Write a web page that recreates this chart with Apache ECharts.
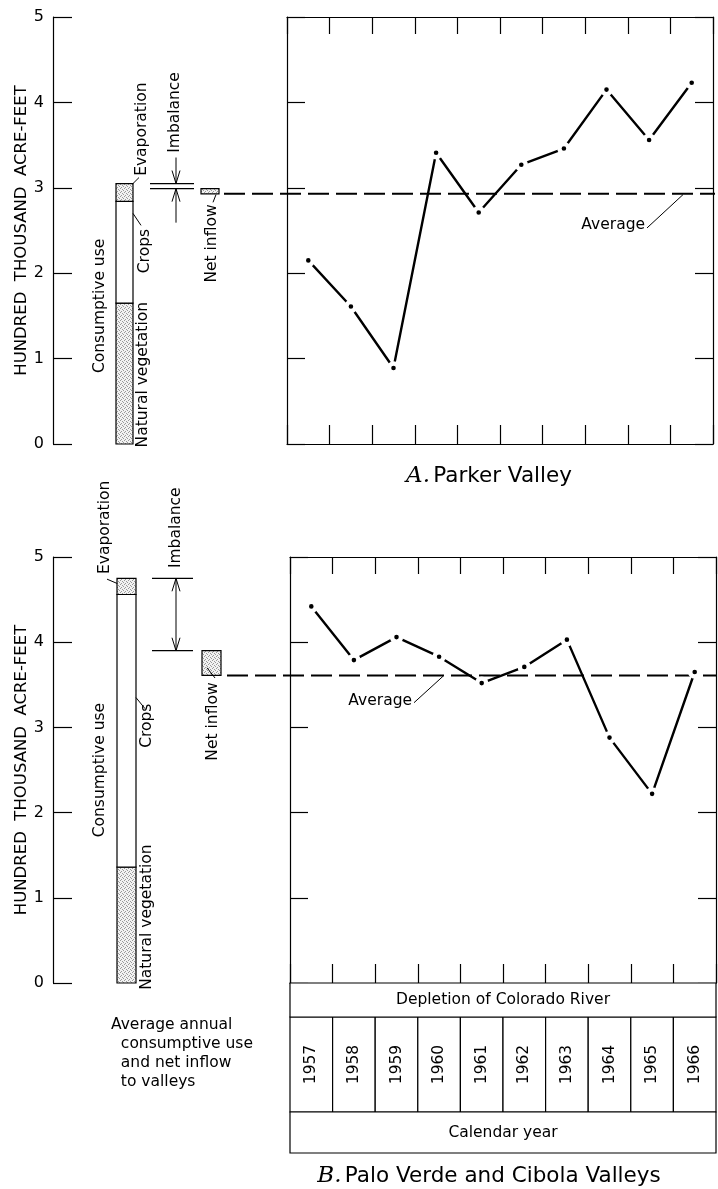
<!DOCTYPE html>
<html><head><meta charset="utf-8">
<script src="https://cdn.jsdelivr.net/npm/echarts@6/dist/echarts.min.js"></script>
<style>html,body{margin:0;padding:0;background:#fff}#c{width:718px;height:1189px}</style>
</head><body><div id="c"></div>
<script>
// ---------------- DATA ----------------
const years = ['1957','1958','1959','1960','1961','1962','1963','1964','1965','1966'];
const yTicks = [0, 1, 2, 3, 4, 5];
const yTitle = 'HUNDRED  THOUSAND  ACRE-FEET';
const parkerDepletion = [2.15, 1.61, 0.89, 3.41, 2.71, 3.27, 3.46, 4.15, 3.56, 4.23];
const paloDepletion   = [4.42, 3.79, 4.06, 3.83, 3.52, 3.71, 4.03, 2.88, 2.22, 3.65];
const parkerAverage = 2.93;
const paloAverage = 3.61;
const useComponents = ['Natural vegetation', 'Crops', 'Evaporation'];
const parkerUse = [1.65, 1.19, 0.21];
const paloUse   = [1.36, 3.20, 0.19];
const parkerNetInflow = 2.99;
const paloNetInflow = 3.90;
const panelLetters = ['A.', 'B.'];
const panelNames = ['Parker Valley', 'Palo Verde and Cibola Valleys'];
const tableRows = ['Depletion of Colorado River', 'Calendar year'];
const noteText = 'Average annual\n  consumptive use\n  and net inflow\n  to valleys';

// ---------------- STYLE / LAYOUT ----------------
const FF = '"DejaVu Sans", sans-serif';
const FS = 15.5;
const font = s => s + 'px ' + FF;
const BLK = '#000';
const stipple = (function () {
  const c = document.createElement('canvas'); c.width = 4; c.height = 4;
  const g = c.getContext('2d');
  g.fillStyle = '#f2f2f2'; g.fillRect(0, 0, 4, 4);
  g.fillStyle = '#9a9a9a';
  [[0,0],[2,1],[1,3],[3,2]].forEach(p => g.fillRect(p[0], p[1], 1, 1));
  return c;
})();
const stippleFill = { image: stipple, repeat: 'repeat' };

const panels = [
  { top: 17, height: 427, boxLeft: 287, depletion: parkerDepletion, avg: parkerAverage,
    use: parkerUse, inflow: parkerNetInflow, imb: 'outside',
    barX: [63, 80], imbX: [97, 141], arrowX: 123, upLen: 26, downLen: 34,
    boxX: [148, 166], dashX: [171, 662],
    evap: { gx: 89, v: 3.14, leader: [[80, 3.05], [86, 3.12]] },
    crops: { gx: 92, v: 2.00, leader: [[80, 2.70], [88, 2.56]] },
    veg: { gx: 90, v: -0.04 },
    cons: { gx: 47, v: 0.83 },
    imbLabel: { gx: 122, v: 3.41 },
    net: { gx: 159, v: 1.89, leader: [[160, 2.83], [163, 2.92]] },
    avgLabel: { gx: 592, v: 2.56, leader: [[594, 2.53], [630, 2.92]] } },
  { top: 557, height: 426, boxLeft: 290, depletion: paloDepletion, avg: paloAverage,
    use: paloUse, inflow: paloNetInflow, imb: 'inside',
    barX: [64, 83], imbX: [99, 140], arrowX: 123,
    boxX: [149, 168], dashX: [174, 664],
    evap: { gx: 52, v: 4.80, leader: [[54, 4.74], [64, 4.69]] },
    crops: { gx: 94, v: 2.76, leader: [[83, 3.35], [92, 3.22]] },
    veg: { gx: 94, v: -0.08 },
    cons: { gx: 47, v: 1.71 },
    imbLabel: { gx: 123, v: 4.87 },
    net: { gx: 160, v: 2.61, leader: [[162, 3.58], [154, 3.70]] },
    avgLabel: { gx: 359, v: 3.31, leader: [[361, 3.29], [390, 3.60]] } }
];

function barRender(P) {
  return function (params, api) {
    const a = api.coord([P.barX[0], api.value(1)]);
    const b = api.coord([P.barX[1], api.value(2)]);
    const k = api.value(0);
    return { type: 'rect', shape: { x: a[0], y: b[1], width: b[0] - a[0], height: a[1] - b[1] },
      style: { fill: k === 1 ? '#fff' : stippleFill, stroke: BLK, lineWidth: 1.2 } };
  };
}

function annotRender(P) {
  return function (params, api) {
    const total = api.value(0), inflow = api.value(1), avg = api.value(2);
    const C = (gx, v) => api.coord([gx, v]);
    const ch = [];
    const line = (a, b, st) => ch.push({ type: 'line', shape: { x1: a[0], y1: a[1], x2: b[0], y2: b[1] },
      style: Object.assign({ stroke: BLK, lineWidth: 1 }, st || {}) });
    const vtext = (o, t) => { const p = C(o.gx, o.v); ch.push({ type: 'text', x: p[0], y: p[1], rotation: Math.PI / 2,
      style: { text: t, fill: BLK, font: font(FS), align: 'left', verticalAlign: 'middle' } }); };
    const head = (p, dir) => ch.push({ type: 'polyline', shape: { points: [[p[0] - 4, p[1] - dir * 13], [p[0], p[1]], [p[0] + 4, p[1] - dir * 13]] },
      style: { stroke: BLK, lineWidth: 1, fill: 'none' } });
    line(C(P.imbX[0], total), C(P.imbX[1], total), { lineWidth: 1.2 });
    line(C(P.imbX[0], inflow), C(P.imbX[1], inflow), { lineWidth: 1.2 });
    const a = C(P.arrowX, total), b = C(P.arrowX, inflow);
    if (P.imb === 'outside') {
      line([a[0], a[1] - P.upLen], a); head(a, 1);
      line(b, [b[0], b[1] + P.downLen]); head(b, -1);
    } else {
      line(a, b); head(a, -1); head(b, 1);
    }
    const n0 = C(P.boxX[0], inflow), n1 = C(P.boxX[1], avg);
    ch.push({ type: 'rect', shape: { x: n0[0], y: n0[1], width: n1[0] - n0[0], height: n1[1] - n0[1] },
      style: { fill: stippleFill, stroke: BLK, lineWidth: 1.2 } });
    line(C(P.dashX[0], avg), C(P.dashX[1], avg), { lineWidth: 2, lineDash: [21, 7] });
    vtext(P.evap, useComponents[2]); line(C(...P.evap.leader[0]), C(...P.evap.leader[1]));
    vtext(P.crops, useComponents[1]); line(C(...P.crops.leader[0]), C(...P.crops.leader[1]));
    vtext(P.veg, useComponents[0]);
    vtext(P.cons, 'Consumptive use');
    vtext(P.imbLabel, 'Imbalance');
    vtext(P.net, 'Net inflow'); line(C(...P.net.leader[0]), C(...P.net.leader[1]));
    const ap = C(P.avgLabel.gx, P.avgLabel.v);
    ch.push({ type: 'text', x: ap[0], y: ap[1], style: { text: 'Average', fill: BLK, font: font(FS), align: 'right', verticalAlign: 'middle' } });
    line(C(...P.avgLabel.leader[0]), C(...P.avgLabel.leader[1]));
    return { type: 'group', children: ch };
  };
}

const axisLineStyle = { color: BLK, width: 1.2 };
function catAxis(gi, pos, len) {
  return { type: 'category', gridIndex: gi, position: pos, data: years, boundaryGap: true,
    axisLine: { show: true, onZero: false, lineStyle: axisLineStyle },
    axisTick: { show: true, inside: true, length: len, interval: 0, lineStyle: axisLineStyle },
    axisLabel: { show: false }, splitLine: { show: false } };
}
function valAxis(gi, pos) {
  return { type: 'value', gridIndex: gi, position: pos, min: 0, max: 5, interval: 1,
    axisLine: { show: true, onZero: false, lineStyle: axisLineStyle },
    axisTick: { show: true, inside: true, length: 18, lineStyle: axisLineStyle },
    axisLabel: { show: false }, splitLine: { show: false } };
}

const grids = [], xAxes = [], yAxes = [], series = [];
panels.forEach(P => {
  const gL = grids.length;
  grids.push({ left: 53, top: P.top, width: 180, height: P.height });
  const gR = grids.length;
  grids.push({ left: P.boxLeft, top: P.top, width: 426, height: P.height });
  const xL = xAxes.length;
  xAxes.push({ type: 'value', gridIndex: gL, min: 0, max: 180, show: false });
  const xR = xAxes.length;
  xAxes.push(catAxis(gR, 'bottom', 19));
  xAxes.push(catAxis(gR, 'top', 17));
  const yL = yAxes.length;
  yAxes.push({ type: 'value', gridIndex: gL, position: 'left', min: 0, max: 5, interval: 1,
    name: yTitle, nameLocation: 'middle', nameGap: 23, nameRotate: 90,
    nameTextStyle: { color: BLK, fontSize: 16.5, fontFamily: FF },
    axisLine: { show: true, onZero: false, lineStyle: axisLineStyle },
    axisTick: { show: true, inside: true, length: 19, lineStyle: axisLineStyle },
    axisLabel: { show: true, margin: 9, color: BLK, fontSize: 16, fontFamily: FF,
      formatter: v => yTicks.indexOf(v) >= 0 ? String(v) : '' },
    splitLine: { show: false } });
  const yR = yAxes.length;
  yAxes.push(valAxis(gR, 'left'));
  yAxes.push(valAxis(gR, 'right'));
  let cum = 0;
  const segs = P.use.map((u, k) => { const s = [k, cum, cum + u]; cum += u; return s; });
  series.push({ type: 'custom', xAxisIndex: xL, yAxisIndex: yL, data: segs, renderItem: barRender(P), clip: false });
  series.push({ type: 'custom', xAxisIndex: xL, yAxisIndex: yL, data: [[cum, P.inflow, P.avg]], renderItem: annotRender(P), clip: false });
  series.push({ type: 'line', xAxisIndex: xR, yAxisIndex: yR, data: P.depletion, z: 5,
    lineStyle: { color: BLK, width: 2.4 }, symbol: 'circle', symbolSize: 9,
    itemStyle: { color: BLK, borderColor: '#fff', borderWidth: 4.4 } });
});

const gT = grids.length;
grids.push({ left: 290, top: 983, width: 426, height: 170 });
const xT = xAxes.length;
xAxes.push({ type: 'category', gridIndex: gT, data: years, boundaryGap: true, show: false });
const yT = yAxes.length;
yAxes.push({ type: 'value', gridIndex: gT, min: 0, max: 170, inverse: true, show: false });
const rowSpans = [[0, 34], [129, 170]];
const yearSpan = [34, 129];
series.push({ type: 'custom', xAxisIndex: xT, yAxisIndex: yT, data: years.map((y, i) => [i]),
  renderItem: (params, api) => {
    const i = api.value(0);
    const bw = params.coordSys.width / years.length;
    const c0 = api.coord([i, yearSpan[0]]), c1 = api.coord([i, yearSpan[1]]);
    return { type: 'group', children: [
      { type: 'rect', shape: { x: c0[0] - bw / 2, y: c0[1], width: bw, height: c1[1] - c0[1] }, style: { fill: '#fff', stroke: BLK, lineWidth: 1.2 } },
      { type: 'text', x: c0[0], y: (c0[1] + c1[1]) / 2, rotation: Math.PI / 2,
        style: { text: years[i], fill: BLK, font: font(FS), align: 'center', verticalAlign: 'middle' } } ] };
  } });
series.push({ type: 'custom', xAxisIndex: xT, yAxisIndex: yT, data: rowSpans.map((r, k) => [k, r[0], r[1]]),
  renderItem: (params, api) => {
    const k = api.value(0);
    const cs = params.coordSys;
    const y0 = api.coord([0, api.value(1)])[1], y1 = api.coord([0, api.value(2)])[1];
    return { type: 'group', children: [
      { type: 'rect', shape: { x: cs.x, y: y0, width: cs.width, height: y1 - y0 }, style: { fill: '#fff', stroke: BLK, lineWidth: 1.2 } },
      { type: 'text', x: cs.x + cs.width / 2, y: (y0 + y1) / 2, style: { text: tableRows[k], fill: BLK, font: font(FS), align: 'center', verticalAlign: 'middle' } } ] };
  } });

const titleRich = { l: { fontStyle: 'italic', fontSize: 23, fontFamily: '"DejaVu Serif", serif', color: BLK },
                    n: { fontSize: 21.5, fontFamily: FF, color: BLK } };
const option = {
  animation: false,
  backgroundColor: '#fff',
  grid: grids, xAxis: xAxes, yAxis: yAxes, series: series,
  graphic: [
    { type: 'text', x: 489, y: 476, style: { text: '{l|' + panelLetters[0] + '} {n|' + panelNames[0] + '}', rich: titleRich, align: 'center', verticalAlign: 'middle' } },
    { type: 'text', x: 489, y: 1176, style: { text: '{l|' + panelLetters[1] + '} {n|' + panelNames[1] + '}', rich: titleRich, align: 'center', verticalAlign: 'middle' } },
    { type: 'text', x: 111, y: 1015, style: { text: noteText, fill: BLK, font: font(FS), lineHeight: 19, align: 'left', verticalAlign: 'top' } }
  ]
};
const chart = echarts.init(document.getElementById('c'), null, { renderer: 'canvas' });
chart.setOption(option);
</script>
</body></html>
